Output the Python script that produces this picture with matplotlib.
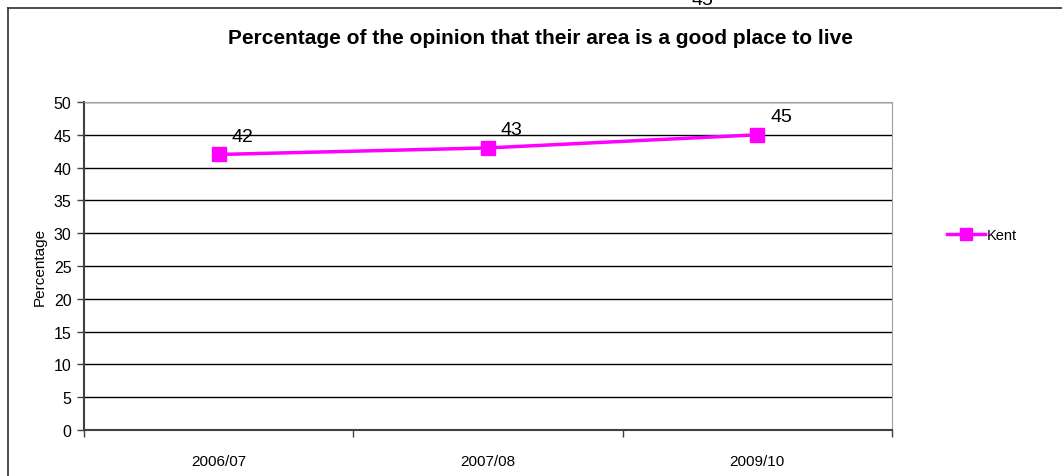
import matplotlib.pyplot as plt
from matplotlib.lines import Line2D

plt.rcParams['font.family'] = ['Liberation Sans', 'DejaVu Sans']

years = ['2006/07', '2007/08', '2009/10']
kent = [42, 43, 45]

fig = plt.figure(figsize=(10.62, 4.77), dpi=100)
W, H = 1062, 477
ax = fig.add_axes([84 / W, 1 - 431 / H, (892 - 84) / W, (431 - 103) / H])

x = list(range(len(years)))
ax.plot(x, kent, color='#ff00ff', lw=2.5, marker='s', ms=10, zorder=3, clip_on=False)
for xi, v in zip(x, kent):
    ax.annotate(str(v), (xi, v), xytext=(17, 7), textcoords='offset points',
                ha='center', va='bottom', fontsize=14)

ax.set_xlim(-0.5, len(years) - 0.5)
ax.set_ylim(0, 50)
ax.set_yticks(range(0, 51, 5))
ax.set_xticks(x)
ax.set_xticklabels(years, fontsize=11)
ax.set_xticks([-0.5, 0.5, 1.5, 2.5], minor=True)
ax.tick_params(axis='x', which='major', length=0, pad=17)
ax.tick_params(axis='x', which='minor', length=5, width=1, color='#404040', direction='out')
ax.tick_params(axis='y', labelsize=11.5, length=5, width=1, color='#404040', pad=4)
ax.grid(axis='y', color='black', lw=1)
ax.set_axisbelow(True)
for s in ['top', 'right']:
    ax.spines[s].set_color('#a0a0a0')
for s in ['left', 'bottom']:
    ax.spines[s].set_color('#404040')
    ax.spines[s].set_linewidth(1.5)
ax.set_ylabel('Percentage', fontsize=11, labelpad=5)

fig.text(541 / W, 1 - 38 / H, 'Percentage of the opinion that their area is a good place to live',
         ha='center', va='center', fontsize=15, fontweight='bold')

# leftover data label clipped at the top edge
fig.text(702 / W, 1 - 9 / H, '45', ha='center', va='bottom', fontsize=14)

# figure frame
fig.add_artist(Line2D([8 / W, 1], [1 - 9 / H, 1 - 9 / H], color='#303030', lw=1.2))
fig.add_artist(Line2D([8 / W, 8 / W], [0, 1 - 9 / H], color='#303030', lw=1.2))

ax.legend(handles=[Line2D([], [], color='#ff00ff', lw=2.5, marker='s', ms=8, label='Kent')],
          loc='center left', bbox_to_anchor=(947 / W, 1 - 236 / H), bbox_transform=fig.transFigure,
          frameon=False, fontsize=10.5, handlelength=2.6, handletextpad=0.15, borderpad=0,
          borderaxespad=0)

fig.savefig('out.png', dpi=100, facecolor='white')
